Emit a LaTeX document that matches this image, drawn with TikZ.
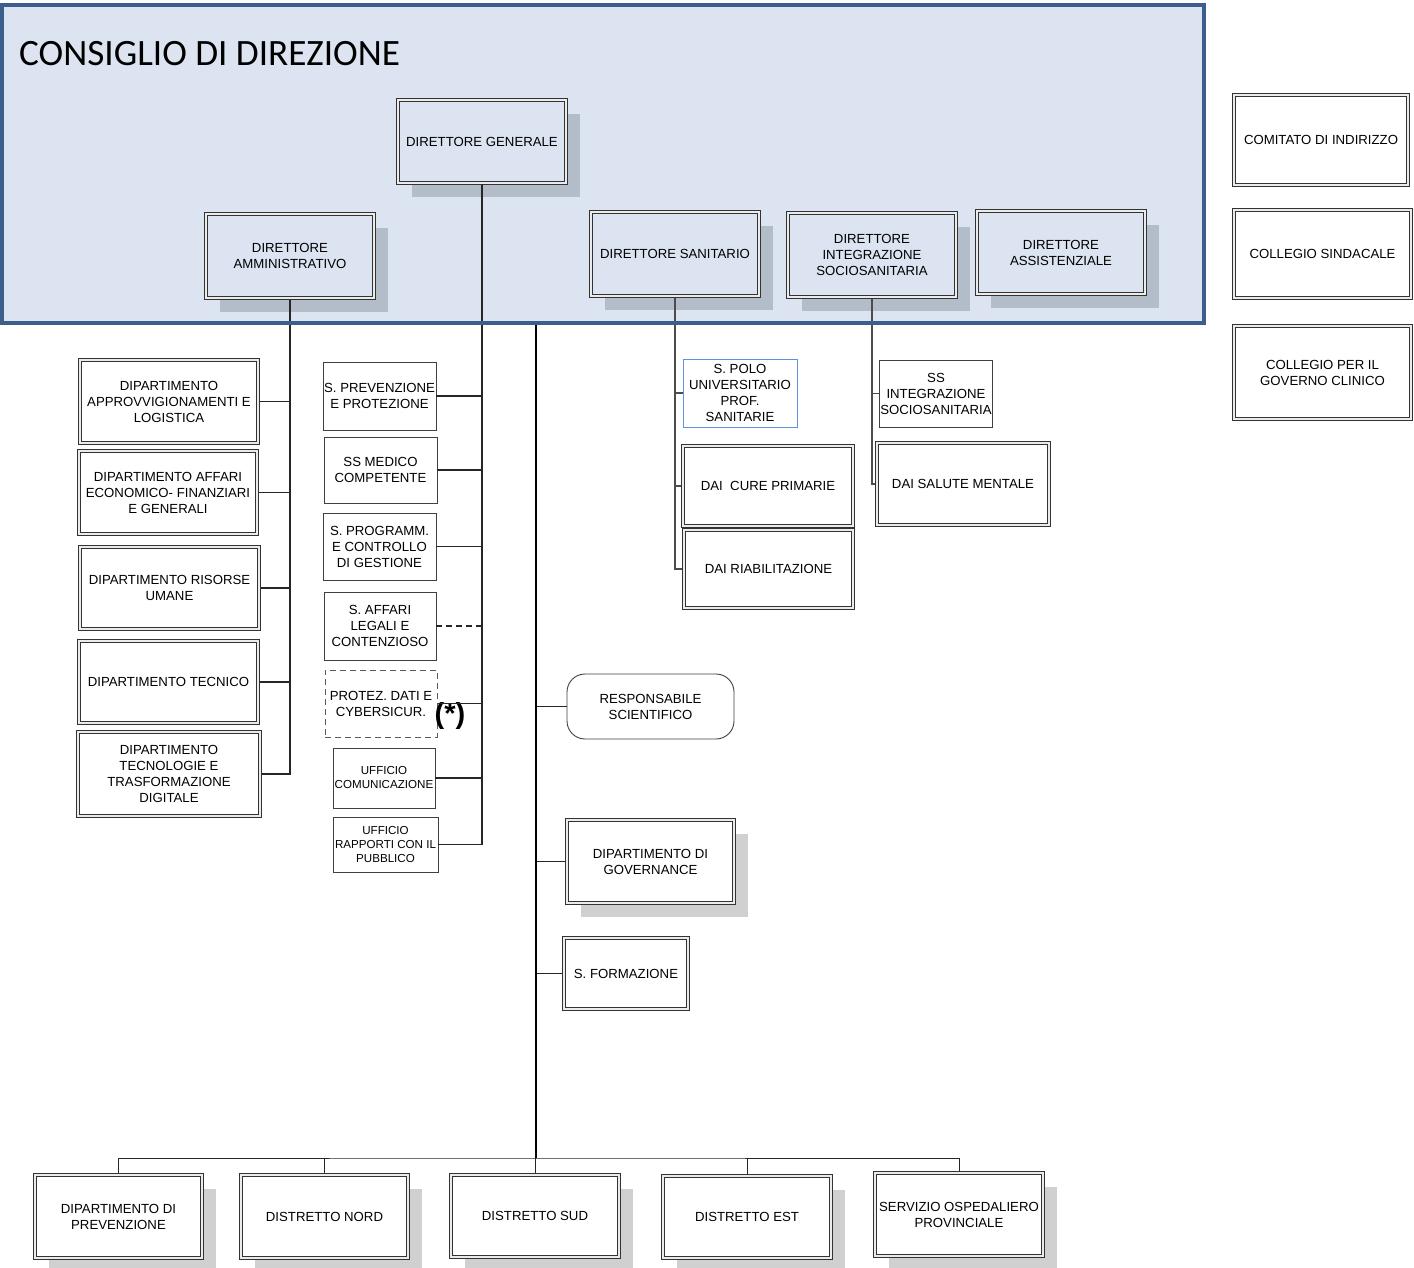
\documentclass[tikz,border=0pt]{standalone}
\usepackage{fontspec}
\setmainfont{Liberation Sans}
\newfontfamily\titlefont{Carlito}
\usepackage{tikz}
\usetikzlibrary{shadows}
\definecolor{lblue}{RGB}{219,228,240}
\definecolor{dblue}{RGB}{59,94,140}
\definecolor{bshadow}{RGB}{179,189,201}
\definecolor{wshadow}{RGB}{208,208,208}
\definecolor{pblue}{RGB}{95,145,225}

\begin{document}
\begin{tikzpicture}[x=1pt,y=-1pt,
  sz/.style 2 args={minimum width=#1pt,minimum height=#2pt},
  box/.style={draw=black!75,line width=0.9pt,fill=white,align=center,inner sep=1pt,font=\fontsize{13.2}{16}\selectfont},
  dbox/.style={box,draw=black!80,line width=3.4pt,postaction={draw=black!8,line width=1.2pt}},
  small/.style={font=\fontsize{11.6}{14}\selectfont},
  bshad/.style={fill=lblue,general shadow={fill=bshadow,shadow xshift=14pt,shadow yshift=-14pt}},
  wshad/.style={general shadow={fill=wshadow,shadow xshift=14pt,shadow yshift=-14pt}},
  link/.style={draw=black!85,line width=1.2pt},
  trunk/.style={draw=black,line width=2.4pt}]
  \tikzstyle{cdd}=[fill=lblue,minimum width=1202pt,minimum height=318pt,inner sep=0pt]
  \tikzstyle{dashbox}=[box,draw=black!65,line width=1pt,dash pattern=on 6pt off 4pt]
  \useasboundingbox (0,0) rectangle (1414,1268);
  \node[cdd] (cdd) at (603,164) {};
  \node[anchor=west,inner sep=0pt,font=\titlefont\fontsize{37.2}{40}\selectfont] (cddlabel) at (19,54) {CONSIGLIO DI DIREZIONE};
  \node[dbox,bshad,sz={168}{83}] (dg) at (482,141.5) {DIRETTORE GENERALE};
  \node[dbox,bshad,sz={168}{84}] (da) at (290,256) {DIRETTORE\\AMMINISTRATIVO};
  \node[dbox,bshad,sz={168}{84}] (ds) at (675,254) {DIRETTORE SANITARIO};
  \node[dbox,bshad,sz={168}{84}] (dis) at (872,255) {DIRETTORE\\INTEGRAZIONE\\SOCIOSANITARIA};
  \node[dbox,bshad,sz={168}{83}] (dass) at (1061,252.5) {DIRETTORE\\ASSISTENZIALE};
  \node[dbox,sz={174}{90}] (comitato) at (1321,140) {COMITATO DI INDIRIZZO};
  \node[dbox,sz={177}{88}] (sindacale) at (1322.5,254) {COLLEGIO SINDACALE};
  \node[dbox,sz={177}{93}] (clinico) at (1322.5,372.5) {COLLEGIO PER IL\\GOVERNO CLINICO};
  \node[dbox,sz={178}{83}] (apl) at (169,401.5) {DIPARTIMENTO\\APPROVVIGIONAMENTI E\\LOGISTICA};
  \node[dbox,sz={178}{83}] (aef) at (168,492.5) {DIPARTIMENTO AFFARI\\ECONOMICO- FINANZIARI\\E GENERALI};
  \node[dbox,sz={179}{82}] (ru) at (169.5,588) {DIPARTIMENTO RISORSE\\UMANE};
  \node[dbox,sz={179}{82}] (tec) at (168.5,682) {DIPARTIMENTO TECNICO};
  \node[dbox,sz={182}{84}] (ttd) at (169,774) {DIPARTIMENTO\\TECNOLOGIE E\\TRASFORMAZIONE\\DIGITALE};
  \node[box,sz={113}{68}] (spp) at (379.5,396) {S. PREVENZIONE\\E PROTEZIONE};
  \node[box,sz={113}{66}] (ssmc) at (380.5,470) {SS MEDICO\\COMPETENTE};
  \node[box,sz={113}{67}] (spcg) at (379.5,546.5) {S. PROGRAMM.\\E CONTROLLO\\DI GESTIONE};
  \node[box,sz={112}{68}] (salc) at (380,626) {S. AFFARI\\LEGALI E\\CONTENZIOSO};
  \node[dashbox,sz={112}{67}] (pdc) at (381,703.5) {PROTEZ. DATI E\\CYBERSICUR.};
  \node[font=\bfseries\fontsize{29}{32}\selectfont,inner sep=0pt] (nota) at (450,716) {(*)};
  \node[box,small,sz={102}{60}] (uc) at (384,778) {UFFICIO\\COMUNICAZIONE};
  \node[box,small,sz={105}{55}] (urp) at (385.5,844.5) {UFFICIO\\RAPPORTI CON IL\\PUBBLICO};
  \node[box,draw=pblue,sz={114}{68}] (polo) at (740,393) {S. POLO\\UNIVERSITARIO\\PROF.\\SANITARIE};
  \node[dbox,sz={170}{80}] (daicp) at (768,486) {DAI~~CURE PRIMARIE};
  \node[dbox,sz={169}{78}] (dair) at (768.5,569) {DAI RIABILITAZIONE};
  \node[box,sz={110}{67}] (ssis) at (936,393.5) {SS\\INTEGRAZIONE\\SOCIOSANITARIA};
  \node[dbox,sz={172}{82}] (daism) at (963,484) {DAI SALUTE MENTALE};
  \node[box,rounded corners=18pt,sz={167}{65}] (resp) at (650.5,706.5) {RESPONSABILE\\SCIENTIFICO};
  \node[dbox,wshad,sz={167}{83}] (gov) at (650.5,861.5) {DIPARTIMENTO DI\\GOVERNANCE};
  \node[dbox,sz={124}{71}] (form) at (626,973.5) {S. FORMAZIONE};
  \node[dbox,wshad,sz={167}{83}] (prev) at (118.5,1216.5) {DIPARTIMENTO DI\\PREVENZIONE};
  \node[dbox,wshad,sz={167}{83}] (nord) at (324.5,1216.5) {DISTRETTO NORD};
  \node[dbox,wshad,sz={168}{82}] (sud) at (535,1216) {DISTRETTO SUD};
  \node[dbox,wshad,sz={168}{82}] (est) at (747,1217) {DISTRETTO EST};
  \node[dbox,wshad,sz={168}{83}] (sop) at (959,1214.5) {SERVIZIO OSPEDALIERO\\PROVINCIALE};
  \coordinate (ctop) at (536,323);
  \coordinate (cbus) at (536,1158);
  \foreach \n in {apl,aef,ru,tec,ttd}
    \draw[link] (da.south) |- (\n.east);
  \foreach \n in {spp,ssmc,spcg,pdc,uc,urp}
    \draw[link] (dg.south) |- (\n.east);
  \draw[link,dash pattern=on 6pt off 4pt] (salc.east) -- (salc.east -| dg.south);
  \foreach \n in {polo,daicp,dair}
    \draw[link,draw=black!70] (ds.south) |- (\n.west);
  \foreach \n in {ssis,daism}
    \draw[link,draw=black!70] (dis.south) |- (\n.west);
  \foreach \n in {resp,gov,form}
    \draw[link] (\n.west) -- (\n.west -| ctop);
  \draw[link,line width=1pt] (prev.north) |- (cbus) -| (sop.north);
  \foreach \n in {nord,sud,est}
    \draw[link,line width=1pt] (\n.north) -- (\n.north |- cbus);
  \draw[trunk] (ctop) -- (cbus);
  \draw[draw=dblue,line width=4pt] (cdd.north west) rectangle (cdd.south east);
\end{tikzpicture}
\end{document}
